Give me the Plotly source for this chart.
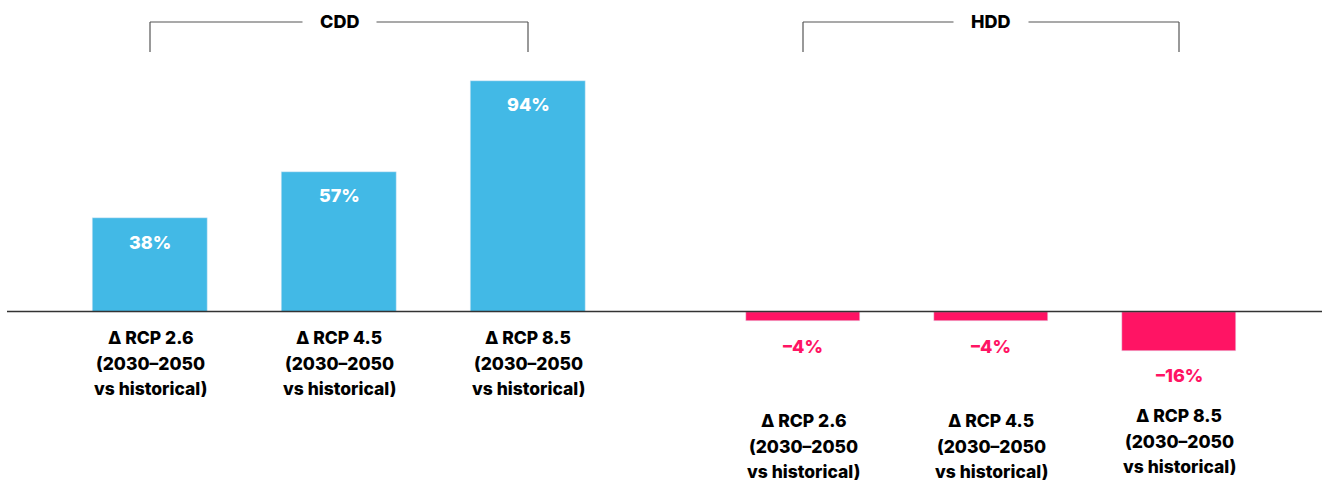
import plotly.graph_objects as go

# Scenario categories (same three scenarios for both indices)
scenarios = ["RCP 2.6", "RCP 4.5", "RCP 8.5"]
label_lines = ["Δ {s}", "(2030–2050", "vs historical)"]

# Change in degree days, % (2030-2050 vs historical)
cdd_change = [38, 57, 94]
hdd_change = [-4, -4, -16]

groups = ["CDD", "HDD"]

BLUE = "#42B9E6"
PINK = "#FF1464"
FONT = "Inter"
WEIGHT = 800

fig = go.Figure()
fig.add_trace(go.Bar(x=scenarios, y=cdd_change, marker_color=BLUE, width=0.605,
                     xaxis="x", yaxis="y", hoverinfo="skip"))
fig.add_trace(go.Bar(x=scenarios, y=hdd_change, marker_color=PINK, width=0.605,
                     xaxis="x2", yaxis="y", hoverinfo="skip"))

annotations = []
shapes = []


def pct(v):
    return f"{v}%".replace("-", "–")


# Value labels
for s, v in zip(scenarios, cdd_change):
    annotations.append(dict(x=s, y=v, xref="x", yref="y", text=pct(v), showarrow=False,
                            yanchor="middle", yshift=-24,
                            font=dict(family=FONT, size=18, color="white", weight=WEIGHT)))
for s, v in zip(scenarios, hdd_change):
    annotations.append(dict(x=s, y=v, xref="x2", yref="y", text=pct(v), showarrow=False,
                            yanchor="middle", yshift=-25,
                            font=dict(family=FONT, size=18, color=PINK, weight=WEIGHT)))

# Scenario labels under the baseline
label_offsets = {"x": [-26, -26, -26], "x2": [-109, -109, -104]}
for xref in ("x", "x2"):
    for i, s in enumerate(scenarios):
        for j, line in enumerate(label_lines):
            annotations.append(dict(x=s, y=0, xref=xref, yref="y", text=line.format(s=s),
                                    showarrow=False, yanchor="middle",
                                    yshift=label_offsets[xref][i] - 25.5 * j,
                                    font=dict(family=FONT, size=17.5, color="black", weight=WEIGHT)))

# Group brackets with titles
line_style = dict(color="#555555", width=1.2)
for xref, title in zip(("x", "x2"), groups):
    top = 1 - 22 / 482
    bot = 1 - 52 / 482
    annotations.append(dict(x=scenarios[1], y=top, xref=xref, yref="paper", text=title,
                            showarrow=False, yanchor="middle", bgcolor="white", borderpad=17,
                            font=dict(family=FONT, size=18, color="black", weight=WEIGHT)))
    shapes.append(dict(type="line", xref=xref, yref="paper", x0=scenarios[0], x1=scenarios[0],
                       y0=bot, y1=top, line=line_style))
    shapes.append(dict(type="line", xref=xref, yref="paper", x0=scenarios[2], x1=scenarios[2],
                       y0=bot, y1=top, line=line_style))
    shapes.append(dict(type="line", xref=xref, yref="paper", x0=scenarios[0], x1=scenarios[2],
                       y0=top, y1=top, line=line_style, layer="below"))

# Zero baseline across the chart
shapes.append(dict(type="line", xref="paper", yref="y", x0=7 / 1322, x1=1, y0=0, y1=0,
                   line=dict(color="#333333", width=1.5)))

fig.update_layout(
    width=1322, height=482,
    margin=dict(l=0, r=0, t=0, b=0),
    paper_bgcolor="white", plot_bgcolor="white",
    showlegend=False,
    bargap=0,
    xaxis=dict(domain=[55.5 / 1322, 622.5 / 1322], range=[-0.5, 2.5], visible=False),
    xaxis2=dict(domain=[709 / 1322, 1273 / 1322], range=[-0.5, 2.5], visible=False),
    yaxis=dict(range=[-69.45, 126.9], visible=False),
    annotations=annotations,
    shapes=shapes,
)

fig.write_html("out.html")
